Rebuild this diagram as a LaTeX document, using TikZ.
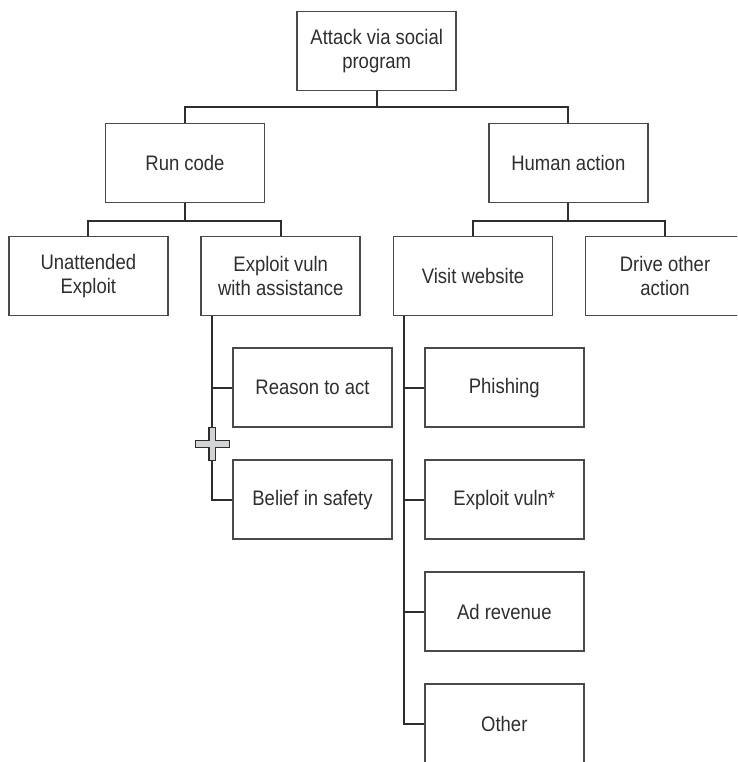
\documentclass[tikz,border=0pt]{standalone}
\usepackage{fontspec}
\setmainfont{Liberation Sans}[FakeStretch=0.88]
\definecolor{ink}{HTML}{2E2E2E}
\definecolor{edge}{HTML}{4A4A4A}
\definecolor{plusfill}{HTML}{D2D4D6}
\tikzset{
  box/.style={draw=edge, line width=1.5pt, minimum width=159pt, minimum height=79pt,
    align=center, text=ink, inner sep=2pt,
    font=\fontsize{21pt}{24.5pt}\selectfont},
  conn/.style={draw=ink, line width=2pt},
}
\begin{document}
\begin{tikzpicture}[x=1pt,y=-1pt]
\useasboundingbox (0,0) rectangle (737,762);
\clip (0,0) rectangle (737,762);
\node[box] (top) at (376.7,51.2) {Attack via social\\program};
\node[box] (runcode) at (185,163) {Run code};
\node[box] (human) at (568.3,163) {Human action};
\node[box] (unatt) at (88.3,276) {Unattended\\Exploit};
\node[box] (exploit) at (280.7,276) {Exploit vuln\\with assistance};
\node[box] (visit) at (473,276) {Visit website};
\node[box] (drive) at (665,276) {Drive other\\action};
\node[box] (reason) at (312.5,387.7) {Reason to act};
\node[box] (belief) at (312.5,499.7) {Belief in safety};
\node[box] (phish) at (504.3,387.7) {Phishing};
\node[box] (expl2) at (504.3,499.7) {Exploit vuln*};
\node[box] (adrev) at (504.3,611.7) {Ad revenue};
\node[box] (other) at (504.3,723.7) {Other};
% top level
\coordinate (j1) at ([yshift=-16pt]top.south);
\draw[conn] (top.south) -- (j1);
\draw[conn] (runcode.north) |- (j1) -| (human.north);
% run code children
\coordinate (j2) at ([yshift=-17.5pt]runcode.south);
\draw[conn] (runcode.south) -- (j2);
\draw[conn] (unatt.north) |- (j2) -| (exploit.north);
% human action children
\coordinate (j3) at ([yshift=-17.5pt]human.south);
\draw[conn] (human.south) -- (j3);
\draw[conn] (visit.north) |- (j3) -| (drive.north);
% exploit vuln with assistance subtree
\coordinate (s1) at ([xshift=11.6pt]exploit.south west);
\draw[conn] (s1) |- (belief.west);
\draw[conn] (reason.west) -- (reason.west -| s1);
% visit website subtree
\coordinate (s2) at ([xshift=11pt]visit.south west);
\draw[conn] (s2) |- (other.west);
\draw[conn] (phish.west) -- (phish.west -| s2);
\draw[conn] (expl2.west) -- (expl2.west -| s2);
\draw[conn] (adrev.west) -- (adrev.west -| s2);
% plus sign
\coordinate (pc) at (212.3,443.8);
\draw[draw=ink, line width=1.2pt, fill=plusfill]
  ([shift={(-3.3,-16.6)}]pc) -- ([shift={(3.3,-16.6)}]pc) -- ([shift={(3.3,-3.3)}]pc)
  -- ([shift={(16.8,-3.3)}]pc) -- ([shift={(16.8,3.3)}]pc) -- ([shift={(3.3,3.3)}]pc)
  -- ([shift={(3.3,16.6)}]pc) -- ([shift={(-3.3,16.6)}]pc) -- ([shift={(-3.3,3.3)}]pc)
  -- ([shift={(-16.8,3.3)}]pc) -- ([shift={(-16.8,-3.3)}]pc) -- ([shift={(-3.3,-3.3)}]pc) -- cycle;
\end{tikzpicture}
\end{document}
